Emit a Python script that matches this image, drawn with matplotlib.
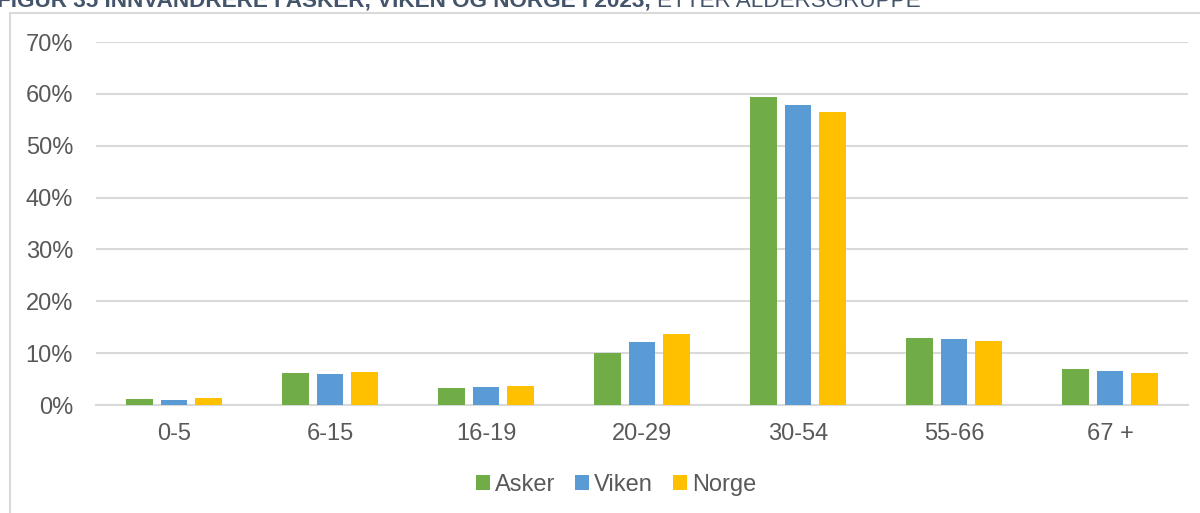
import matplotlib
matplotlib.use('Agg')
from matplotlib import pyplot as plt
from matplotlib.patches import Rectangle
import numpy as np

plt.rcParams['font.family'] = ['Liberation Sans', 'DejaVu Sans']

# Andel innvandrere per aldersgruppe (prosent)
groups = ['0-5', '6-15', '16-19', '20-29', '30-54', '55-66', '67 +']
asker = [1.1, 6.2, 3.3, 10.0, 59.4, 12.9, 6.9]
viken = [1.0, 6.0, 3.4, 12.1, 57.9, 12.7, 6.6]
norge = [1.3, 6.4, 3.6, 13.7, 56.5, 12.3, 6.2]

series = [('Asker', asker, '#70AD47'),
          ('Viken', viken, '#5B9BD5'),
          ('Norge', norge, '#FFC000')]

text_color = '#595959'
grid_color = '#D9D9D9'
fs = 17

fig = plt.figure(figsize=(12, 5.13), dpi=100)
ax = fig.add_axes([0.08, 0.2105, 0.91, 0.7075])

x = np.arange(len(groups))
bar_w = 0.173
pitch = 0.218
for i, (name, vals, col) in enumerate(series):
    ax.bar(x + (i - 1) * pitch, vals, width=bar_w, color=col, label=name, zorder=3)

ax.set_xlim(-0.5, len(groups) - 0.5)
ax.set_ylim(0, 70)
ax.set_yticks(range(0, 71, 10))
ax.set_yticklabels([f'{v}%' for v in range(0, 71, 10)])
ax.set_xticks(x)
ax.set_xticklabels(groups)
ax.tick_params(axis='both', length=0, labelsize=fs, colors=text_color)
ax.tick_params(axis='y', pad=16.5)
ax.tick_params(axis='x', pad=13)
ax.grid(axis='y', color=grid_color, linewidth=1.5, zorder=0)
for side in ['top', 'right', 'left']:
    ax.spines[side].set_visible(False)
ax.spines['bottom'].set_color(grid_color)
ax.spines['bottom'].set_linewidth(1.5)

leg = fig.legend(loc='center', bbox_to_anchor=(616 / 1200, 1 - 485 / 513), ncol=3,
                 frameon=False, fontsize=fs, handlelength=0.6, handleheight=0.6,
                 handletextpad=0.2, columnspacing=0.85)
for t in leg.get_texts():
    t.set_color(text_color)

# ramme rundt diagrammet
fig.patches.append(Rectangle((10 / 1200, -0.05), 1.2, 1 - 13 / 513 + 0.05,
                             transform=fig.transFigure, fill=False,
                             edgecolor=grid_color, linewidth=1.5))

# figurtittel (delvis utenfor toppen)
title_y = 1 - 7 / 513
t1 = fig.text(-3 / 1200, title_y, 'FIGUR 35 INNVANDRERE I ASKER, VIKEN OG NORGE I 2023, ',
              fontsize=16.2, fontweight='bold', color='#44546A', va='baseline')
fig.canvas.draw()
bb = t1.get_window_extent()
fig.text(bb.x1 / 1200, title_y, 'ETTER ALDERSGRUPPE', fontsize=16.2, color='#44546A',
         va='baseline')

fig.savefig('out.png', dpi=100, facecolor='white')
